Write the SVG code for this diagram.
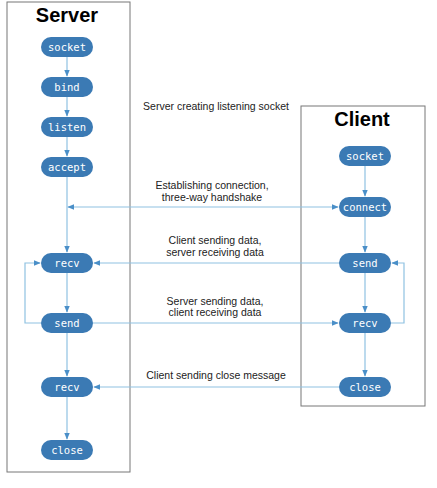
<svg xmlns="http://www.w3.org/2000/svg" width="437" height="488" viewBox="0 0 437 488">
<defs>
<style>
.box{fill:#fff;stroke:#777;stroke-width:1}
.title{font-family:"Liberation Sans",Arial,sans-serif;font-weight:bold;font-size:20px;fill:#000;text-anchor:middle}
.node rect{fill:#3b7ab4}
.node text{font-family:"DejaVu Sans Mono",monospace;font-size:10.5px;fill:#fff;text-anchor:middle}
.lbl{font-family:"Liberation Sans",Arial,sans-serif;font-size:10.5px;fill:#222;text-anchor:middle}
.c{fill:none;stroke:#8fc2e2;stroke-width:1.2}
</style>
<marker id="ah" viewBox="0 0 10 10" refX="9" refY="5" markerWidth="7" markerHeight="7" orient="auto-start-reverse" markerUnits="userSpaceOnUse">
<path d="M0,1 L10,5 L0,9 z" fill="#4a8fc8"/>
</marker>
</defs>
<rect width="437" height="488" fill="#fff"/>
<rect class="box" x="7" y="2" width="123" height="470"/>
<rect class="box" x="301" y="106" width="124" height="300"/>
<text class="title" x="67" y="22">Server</text>
<text class="title" x="362" y="126">Client</text>
<g id="connectors">
<path class="c" d="M67,57 V76" marker-end="url(#ah)"/>
<path class="c" d="M67,97 V116" marker-end="url(#ah)"/>
<path class="c" d="M67,137 V156" marker-end="url(#ah)"/>
<path class="c" d="M67,177 V252" marker-end="url(#ah)"/>
<path class="c" d="M67,273 V312" marker-end="url(#ah)"/>
<path class="c" d="M67,333 V376" marker-end="url(#ah)"/>
<path class="c" d="M67,397 V439" marker-end="url(#ah)"/>
<path class="c" d="M41,323 H25 V263 H40" marker-end="url(#ah)"/>
<path class="c" d="M365,166 V196" marker-end="url(#ah)"/>
<path class="c" d="M365,217 V252" marker-end="url(#ah)"/>
<path class="c" d="M365,273 V312" marker-end="url(#ah)"/>
<path class="c" d="M365,333 V376" marker-end="url(#ah)"/>
<path class="c" d="M391,323 H404 V263 H392" marker-end="url(#ah)"/>
<path class="c" d="M68,207 H338" marker-start="url(#ah)" marker-end="url(#ah)"/>
<path class="c" d="M339,263 H94" marker-end="url(#ah)"/>
<path class="c" d="M93,323 H338" marker-end="url(#ah)"/>
<path class="c" d="M339,387 H94" marker-end="url(#ah)"/>
</g>
<g id="s-socket" class="node"><rect x="41" y="37" width="52" height="20" rx="10"/><text x="67" y="51">socket</text></g>
<g id="s-bind" class="node"><rect x="41" y="77" width="52" height="20" rx="10"/><text x="67" y="91">bind</text></g>
<g id="s-listen" class="node"><rect x="41" y="117" width="52" height="20" rx="10"/><text x="67" y="131">listen</text></g>
<g id="s-accept" class="node"><rect x="41" y="157" width="52" height="20" rx="10"/><text x="67" y="171">accept</text></g>
<g id="s-recv" class="node"><rect x="41" y="253" width="52" height="20" rx="10"/><text x="67" y="267">recv</text></g>
<g id="s-send" class="node"><rect x="41" y="313" width="52" height="20" rx="10"/><text x="67" y="327">send</text></g>
<g id="s-recv2" class="node"><rect x="41" y="377" width="52" height="20" rx="10"/><text x="67" y="391">recv</text></g>
<g id="s-close" class="node"><rect x="41" y="440" width="52" height="20" rx="10"/><text x="67" y="454">close</text></g>
<g id="c-socket" class="node"><rect x="339" y="146" width="52" height="20" rx="10"/><text x="365" y="160">socket</text></g>
<g id="c-connect" class="node"><rect x="339" y="197" width="52" height="20" rx="10"/><text x="365" y="211">connect</text></g>
<g id="c-send" class="node"><rect x="339" y="253" width="52" height="20" rx="10"/><text x="365" y="267">send</text></g>
<g id="c-recv" class="node"><rect x="339" y="313" width="52" height="20" rx="10"/><text x="365" y="327">recv</text></g>
<g id="c-close" class="node"><rect x="339" y="377" width="52" height="20" rx="10"/><text x="365" y="391">close</text></g>
<g id="labels">
<text class="lbl" x="216" y="110">Server creating listening socket</text>
<text class="lbl" x="212" y="189">Establishing connection,</text>
<text class="lbl" x="212" y="201">three-way handshake</text>
<text class="lbl" x="215" y="244">Client sending data,</text>
<text class="lbl" x="215" y="256">server receiving data</text>
<text class="lbl" x="215" y="305">Server sending data,</text>
<text class="lbl" x="215" y="316">client receiving data</text>
<text class="lbl" x="216" y="379">Client sending close message</text>
</g>
</svg>
